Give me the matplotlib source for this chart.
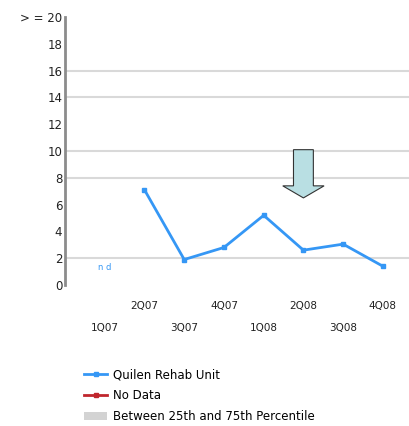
import matplotlib.pyplot as plt
from matplotlib.lines import Line2D
from matplotlib.patches import Patch, FancyArrow

# données
quarters = ["1Q07", "2Q07", "3Q07", "4Q07", "1Q08", "2Q08", "3Q08", "4Q08"]
unit_vals = [None, 7.1, 1.9, 2.8, 5.2, 2.6, 3.05, 1.4]
ytick_vals = [0, 2, 4, 6, 8, 10, 12, 14, 16, 18, 20]
ytick_labels = ["0", "2", "4", "6", "8", "10", "12", "14", "16", "18", "> = 20"]
grid_vals = [2, 8, 10, 14, 16]
arrow_top, arrow_tip = 10.1, 6.5
arrow_at = "2Q08"

blue = "#3597f5"
red = "#c0262d"

fig = plt.figure(figsize=(4.09, 4.26), dpi=100)
ax = fig.add_axes([0.159, 0.331, 0.85, 0.629])

for g in grid_vals:
    ax.axhline(g, color="#d9d9d9", lw=1.5, zorder=0)

xs = [i for i, v in enumerate(unit_vals) if v is not None]
ys = [v for v in unit_vals if v is not None]
ax.plot(xs, ys, color=blue, lw=2, marker="s", ms=3.5, zorder=3)

# pas de donnée pour le premier trimestre
for i, v in enumerate(unit_vals):
    if v is None:
        ax.text(i, 1.3, "n d", color=blue, fontsize=6, ha="center", va="center")

xa = quarters.index(arrow_at)
ax.add_patch(FancyArrow(xa, arrow_top, 0, arrow_tip - arrow_top, width=0.5,
                        head_width=1.04, head_length=0.9, length_includes_head=True,
                        facecolor="#b9dfe3", edgecolor="#333333", lw=0.8, zorder=4))

ax.set_xlim(-1, 7.75)
ax.set_ylim(0, 20)
ax.set_yticks(ytick_vals)
ax.set_yticklabels(ytick_labels, fontsize=8.5, color="#222222")
ax.tick_params(axis="y", length=0, pad=2)
ax.set_xticks([])

for s in ["top", "right", "bottom"]:
    ax.spines[s].set_visible(False)
ax.spines["left"].set_color("#8c8c8c")
ax.spines["left"].set_linewidth(2)

# étiquettes en quinconce
for i, q in enumerate(quarters):
    yoff = -0.08 if i % 2 == 1 else -0.16
    ax.text(i, yoff, q, transform=ax.get_xaxis_transform(), fontsize=7.5,
            ha="center", va="center", color="#222222")

handles = [Line2D([], [], color=blue, lw=2, marker="s", ms=2.5),
           Line2D([], [], color=red, lw=2, marker="s", ms=2.5),
           Patch(facecolor="#d3d3d3", edgecolor="none")]
labels = ["Quilen Rehab Unit", "No Data", "Between 25th and 75th Percentile"]
fig.legend(handles, labels, loc="upper left", bbox_to_anchor=(0.205, 0.135),
           frameon=False, fontsize=8.5, handlelength=2.0, handletextpad=0.5,
           labelspacing=0.65, borderpad=0, borderaxespad=0)

fig.savefig("out.png", dpi=100)
